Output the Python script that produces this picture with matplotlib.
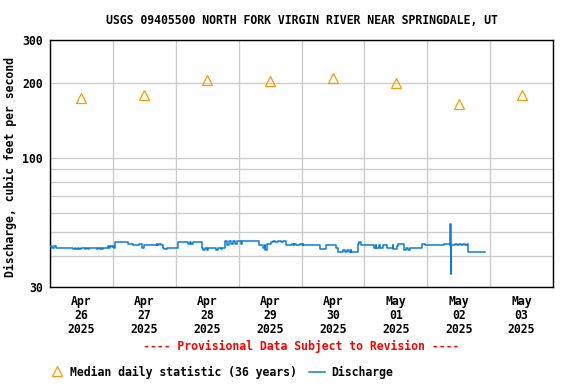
import numpy as np
import matplotlib
matplotlib.use("Agg")
import matplotlib.pyplot as plt
import matplotlib.dates as mdates
from matplotlib.lines import Line2D
from datetime import datetime, timedelta

# ---- data ----
title = "USGS 09405500 NORTH FORK VIRGIN RIVER NEAR SPRINGDALE, UT"
start = datetime(2025, 4, 26, 0, 0)

median_days = ["2025-04-26", "2025-04-27", "2025-04-28", "2025-04-29",
               "2025-04-30", "2025-05-01", "2025-05-02", "2025-05-03"]
median_vals = [175, 180, 207, 205, 210, 201, 165, 180]

# discharge: step breakpoints (hours after 2025-04-26 00:00, cfs)
q_hours = [0, 0.75, 1.5, 2.25, 8.75, 9.5, 10, 10.75, 11, 11.75, 13.25, 13.75,
           14.5, 14.75, 18, 18.25, 19, 19.5, 19.75, 20.25, 22, 22.5, 22.75,
           23.5, 24, 24.5, 25, 29.75, 31.5, 34, 35, 35.75, 40.75, 41, 41.5,
           42.25, 43, 43.5, 44.5, 49, 52.5, 53.25, 54, 54.5, 58, 58.25, 59,
           59.75, 60.5, 61, 63.25, 64, 65.25, 65.5, 66.75, 67.75, 68.5, 69,
           69.75, 70.5, 71.25, 72.75, 73.25, 79.75, 81.25, 82, 82.25, 82.75,
           84.5, 85, 85.75, 87, 88, 89, 90.25, 92.25, 93, 93.25, 93.75, 95.5,
           96, 96.5, 96.75, 103.25, 105.5, 109.25, 110, 112, 112.75, 113.25,
           114, 114.75, 115, 117.75, 118, 118.75, 123.5, 124.25, 124.5,
           125.75, 126, 127.25, 128.75, 130.75, 131, 132.5, 133, 135, 135.25,
           136, 136.75, 137.5, 139, 142, 143, 150.5, 152.5, 152.75, 153,
           153.25, 154.75, 155.5, 156.25, 157, 157.75, 158.5, 159.25, 159.5,
           166]
q_vals = [44.0, 43.3, 44.0, 43.3, 42.7, 43.3, 42.7, 43.3, 42.7, 43.3, 42.7, 43.3,
          42.7, 43.3, 42.7, 43.3, 42.7, 43.3, 42.7, 43.3, 44.0, 43.3, 44.0,
          43.6, 44.0, 43.3, 45.7, 45.0, 44.3, 45.0, 43.3, 44.3, 45.0, 44.3, 45.0,
          44.3, 43.3, 42.7, 43.3, 45.7, 45.0, 45.7, 45.0, 45.7, 43.0, 42.5, 43.0,
          42.5, 43.0, 43.3, 42.5, 43.3, 42.7, 43.3, 46.1, 44.3, 46.1, 45.0,
          46.1, 45.0, 46.1, 45.0, 46.1, 44.3, 43.3, 44.3, 42.3, 45.0,
          45.7, 46.1, 45.7, 46.1, 45.7, 46.1, 44.3, 45.0, 44.3, 45.0, 44.3, 45.0,
          44.3, 45.0, 44.3, 42.7, 44.3, 43.0, 41.6, 42.3, 41.6, 42.3,
          41.6, 42.3, 41.6, 45.0, 45.7, 44.3, 43.3, 44.3, 43.3,
          44.3, 43.3, 44.3, 43.3, 44.3, 42.7, 44.0, 44.7, 43.0, 42.3,
          43.0, 42.3, 43.0, 43.3, 45.0, 44.3, 45.0, 44.3, 54.2, 34.0,
          44.3, 45.0, 44.3, 45.0, 44.3, 45.0, 44.3, 45.0, 41.6,
          41.6]

x_day_labels = ["Apr\n26\n2025", "Apr\n27\n2025", "Apr\n28\n2025", "Apr\n29\n2025",
                "Apr\n30\n2025", "May\n01\n2025", "May\n02\n2025", "May\n03\n2025"]
y_ticks = [30, 40, 50, 60, 70, 80, 90, 100, 200, 300]
y_tick_labels = ["30", "", "", "", "", "", "", "100", "200", "300"]

# ---- style ----
FONT = "DejaVu Sans Mono"
FS = 8.3
BLUE = "#0a7fd2"
ORANGE = "#ff9900"
GRID = "#cccccc"

fig = plt.figure(figsize=(5.76, 3.84), dpi=100)
ax = fig.add_axes([50/576, 1-287/384, 503/576, 247/384])

q_times = [start + timedelta(hours=h) for h in q_hours]
ax.plot(q_times, q_vals, drawstyle="steps-post", color=BLUE, lw=1.1, zorder=3)

m_times = [datetime.strptime(d, "%Y-%m-%d") + timedelta(hours=12) for d in median_days]
ax.plot(m_times, median_vals, ls="none", marker="^", ms=7.5, mfc="none",
        mec=ORANGE, mew=0.9, zorder=4)

ax.set_yscale("log")
ax.set_ylim(30, 300)
ax.set_xlim(start, start + timedelta(days=8))
ax.yaxis.set_major_locator(matplotlib.ticker.FixedLocator(y_ticks))
ax.yaxis.set_minor_locator(matplotlib.ticker.NullLocator())
ax.set_yticklabels(y_tick_labels, fontfamily=FONT, fontweight="bold", fontsize=FS)

ax.xaxis.set_major_locator(mdates.DayLocator())
ax.xaxis.set_major_formatter(matplotlib.ticker.NullFormatter())
ax.xaxis.set_minor_locator(matplotlib.ticker.FixedLocator(mdates.date2num(m_times)))
ax.xaxis.set_minor_formatter(matplotlib.ticker.FixedFormatter(x_day_labels))
for lab in ax.xaxis.get_minorticklabels():
    lab.set_fontfamily(FONT)
    lab.set_fontweight("bold")
    lab.set_fontsize(FS)
    lab.set_linespacing(1.08)
ax.tick_params(axis="both", which="both", length=0)
ax.tick_params(axis="y", pad=5)
ax.tick_params(axis="x", which="minor", pad=6)

ax.grid(True, which="major", color=GRID, lw=1.0, zorder=0)
for s in ax.spines.values():
    s.set_color("black")
    s.set_linewidth(1.0)

fig.text(302/576, 1-20/384, title, ha="center", va="center",
         fontfamily=FONT, fontweight="bold", fontsize=FS)
fig.text(10/576, 1-167/384, "Discharge, cubic feet per second", rotation=90,
         ha="center", va="center", fontfamily=FONT, fontweight="bold", fontsize=FS)
fig.text(301/576, 1-346/384, "---- Provisional Data Subject to Revision ----",
         ha="center", va="center", color="red", fontfamily=FONT,
         fontweight="bold", fontsize=FS)

# legend
ly = 1-372/384
fig.add_artist(Line2D([57/576], [ly + 0.002], ls="none", marker="^", ms=7.5,
                      mfc="none", mec=ORANGE, mew=0.9, transform=fig.transFigure))
fig.text(70/576, ly, "Median daily statistic (36 years)", ha="left", va="center",
         fontfamily=FONT, fontweight="bold", fontsize=FS)
fig.add_artist(Line2D([309/576, 325/576], [ly, ly], color=BLUE, lw=1.1,
                      transform=fig.transFigure))
fig.text(331/576, ly, "Discharge", ha="left", va="center",
         fontfamily=FONT, fontweight="bold", fontsize=FS)

fig.savefig("out.png", dpi=100)
